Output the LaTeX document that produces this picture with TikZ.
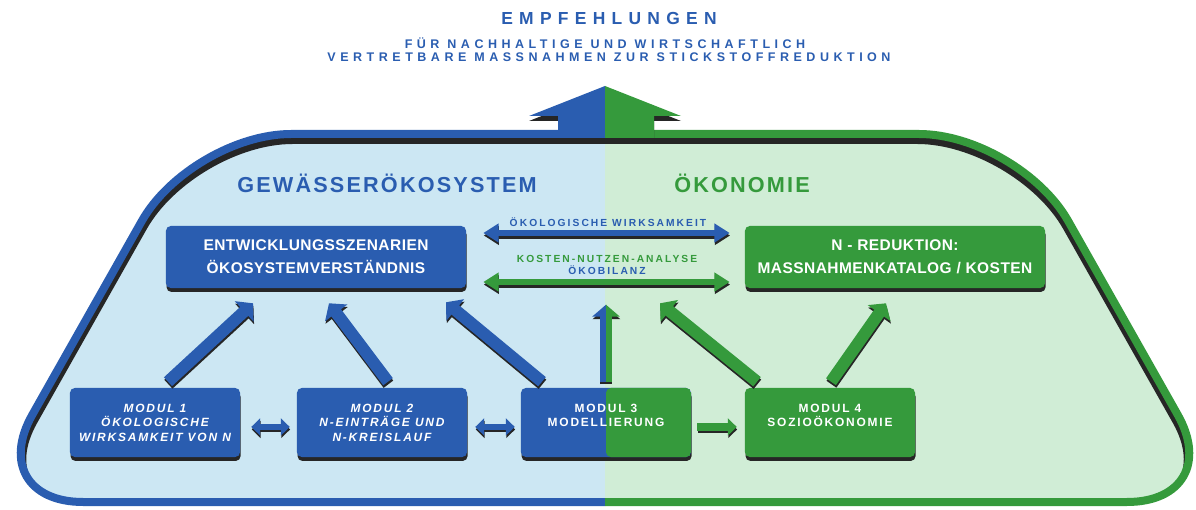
\documentclass[tikz,border=0pt]{standalone}
\usepackage{fontspec}
\setmainfont{Liberation Sans}
\newfontfamily\ttlfont[LetterSpace=36]{Liberation Sans}
\newfontfamily\hdfont[LetterSpace=10]{Liberation Sans}
\newfontfamily\bxfont[LetterSpace=3]{Liberation Sans}
\newfontfamily\mdfont[LetterSpace=15]{Liberation Sans}
\newfontfamily\lbfont[LetterSpace=20]{Liberation Sans}
\usetikzlibrary{arrows.meta,calc,shadows}
\definecolor{cblue}{RGB}{42,93,176}
\definecolor{cgreen}{RGB}{53,154,60}
\definecolor{lblue}{RGB}{204,231,243}
\definecolor{lgreen}{RGB}{208,237,214}
\newcommand\sdraw[2]{\draw[#1,color=black!85,transform canvas={xshift=0.3pt,yshift=-1.8pt}] #2; \draw[#1] #2;}
\def\outlinepath{(605,134) [rounded corners=2.5cm] -- (1019,134) -- (1123,318) -- (1227,502) -- (-17,502) -- (87,318) -- (191,134) -- cycle}
\def\toparrowpath{(605,86) -- (681,116) -- (654,116) -- (654,138) -- (558,138) -- (558,116) -- (529,116) -- cycle}
\begin{document}
\begin{tikzpicture}[x=0.025cm,y=-0.025cm,
  ubox/.style={rounded corners=0.12cm, fill=cblue, text=white, align=center, inner sep=0pt,
    drop shadow={shadow xshift=0.4pt,shadow yshift=-2.8pt,opacity=1,fill=black!85}},
  bigbox/.style={ubox, minimum width=7.5cm, minimum height=1.55cm, font=\bxfont\bfseries\fontsize{11}{16.4}\selectfont},
  modbox/.style={ubox, minimum width=4.25cm, minimum height=1.725cm, font=\mdfont\bfseries\fontsize{8.5}{10.3}\selectfont},
  modit/.style={modbox, font=\mdfont\bfseries\itshape\fontsize{8.5}{10.3}\selectfont},
  bigarr/.style={line width=0.17cm, {Triangle[width=0.45cm,length=0.38cm]}-{Triangle[width=0.45cm,length=0.38cm]}, shorten <=0.425cm, shorten >=0.375cm},
  smallarr/.style={line width=0.15cm, {Triangle[width=0.42cm,length=0.22cm]}-{Triangle[width=0.42cm,length=0.22cm]}},
  fwdarr/.style={line width=0.2cm, -{Triangle[width=0.42cm,length=0.22cm]}},
  uparr/.style={line width=0.3cm, -{Triangle[width=0.68cm,length=0.3cm]}},
  ttl/.style={anchor=base, text=cblue, font=\ttlfont\bfseries\fontsize{12.4}{14}\selectfont},
  sub/.style={anchor=base, text=cblue, font=\ttlfont\bfseries\fontsize{8.9}{9.3}\selectfont},
  hd/.style={anchor=base, text=cblue, font=\hdfont\bfseries\fontsize{15.4}{18}\selectfont},
  lbl/.style={anchor=base, text=cblue, font=\lbfont\bfseries\fontsize{7.3}{8.5}\selectfont}
]
\useasboundingbox (0,0) rectangle (1196,510);
% background outline
\begin{scope}
  \clip (-20,0) rectangle (605,520);
  \fill[lblue] \outlinepath;
  \begin{scope}
    \clip \outlinepath;
    \draw[black!85, line width=0.2cm, shift={(1.5,6)}] \outlinepath;
  \end{scope}
  \draw[cblue, line width=0.2cm] \outlinepath;
\end{scope}
\begin{scope}
  \clip (605,0) rectangle (1240,520);
  \fill[lgreen] \outlinepath;
  \begin{scope}
    \clip \outlinepath;
    \draw[black!85, line width=0.2cm, shift={(-1.5,6)}] \outlinepath;
  \end{scope}
  \draw[cgreen, line width=0.2cm] \outlinepath;
\end{scope}
% top arrow
\fill[black!85, shift={(0,5)}] \toparrowpath;
\begin{scope}
  \clip (0,0) rectangle (605,510);
  \fill[cblue] \toparrowpath;
\end{scope}
\begin{scope}
  \clip (605,0) rectangle (1196,510);
  \fill[cgreen] \toparrowpath;
\end{scope}
% titles
\node[ttl] (t0) at (609,25) {EMPFEHLUNGEN};
\node[sub] (t1) at (605,49) {FÜR NACHHALTIGE UND WIRTSCHAFTLICH};
\node[sub] (t2) at (609,61.5) {VERTRETBARE MASSNAHMEN ZUR STICKSTOFFREDUKTION};
\node[hd] (h1) at (387,192.5) {GEWÄSSERÖKOSYSTEM};
\node[hd, text=cgreen] (h2) at (742,192.5) {ÖKONOMIE};
\node[lbl] (l1) at (608,227) {ÖKOLOGISCHE WIRKSAMKEIT};
\node[lbl, text=cgreen] (l2) at (607,262.5) {KOSTEN-NUTZEN-ANALYSE};
\node[lbl] (l3) at (607,274.5) {ÖKOBILANZ};
% boxes
\node[bigbox] (ent) at (316,257) {ENTWICKLUNGSSZENARIEN\\ÖKOSYSTEMVERSTÄNDNIS};
\node[bigbox, fill=cgreen] (nred) at (895,257) {N - REDUKTION:\\MASSNAHMENKATALOG / KOSTEN};
\node[modit] (m1) at (155,422.5) {MODUL 1\\ÖKOLOGISCHE\\WIRKSAMKEIT VON N};
\node[modit] (m2) at (382,422.5) {MODUL 2\\N-EINTRÄGE UND\\N-KREISLAUF};
\node[modbox, path picture={\fill[cgreen] (path picture bounding box.north) rectangle (path picture bounding box.south east);}] (m3) at (606,422.5) {MODUL 3\\MODELLIERUNG\\\phantom{X}};
\node[modbox, fill=cgreen] (m4) at (830,422.5) {MODUL 4\\SOZIOÖKONOMIE\\\phantom{X}};
% connector end points
\coordinate (s1) at ($(m1.north)+(13,-6)$);
\coordinate (e1) at ($(ent.south)+(-63,15)$);
\coordinate (s2) at ($(m2.north)+(6,-6)$);
\coordinate (e2) at ($(ent.south)+(13,15)$);
\coordinate (s3) at ($(m3.north)+(-64,-6)$);
\coordinate (e3) at ($(ent.south)+(130,14)$);
\coordinate (s4) at ($(m3.north)+(0,-6)$);
\coordinate (e4) at ($(m3.north)+(0,-83)$);
\coordinate (s5) at ($(m4.north)+(-73,-6)$);
\coordinate (e5) at ($(nred.south)+(-235,15)$);
\coordinate (s6) at ($(m4.north)+(1,-6)$);
\coordinate (e6) at ($(nred.south)+(-9,15)$);
% horizontal arrows
\sdraw{bigarr,cblue}{([yshift=0.6cm]ent.east) -- ([yshift=0.6cm]nred.west)}
\sdraw{bigarr,cgreen}{([yshift=-0.625cm]ent.east) -- ([yshift=-0.625cm]nred.west)}
\sdraw{smallarr,cblue,shorten <=0.275cm,shorten >=0.175cm}{([yshift=-0.11cm]m1.east) -- ([yshift=-0.11cm]m2.west)}
\sdraw{smallarr,cblue,shorten <=0.2cm,shorten >=0.15cm}{([yshift=-0.11cm]m2.east) -- ([yshift=-0.11cm]m3.west)}
\sdraw{fwdarr,cgreen,shorten <=0.15cm,shorten >=0.2cm}{([yshift=-0.11cm]m3.east) -- ([yshift=-0.11cm]m4.west)}
% up arrows
\sdraw{uparr,cblue}{(s1) -- (e1)}
\sdraw{uparr,cblue}{(s2) -- (e2)}
\sdraw{uparr,cblue}{(s3) -- (e3)}
\sdraw{uparr,cgreen}{(s5) -- (e5)}
\sdraw{uparr,cgreen}{(s6) -- (e6)}
\draw[uparr,color=black!85,transform canvas={xshift=0.3pt,yshift=-1.8pt}] (s4) -- (e4);
\begin{scope}
  \clip (0,0) rectangle (606,510);
  \draw[uparr,cblue] (s4) -- (e4);
\end{scope}
\begin{scope}
  \clip (606,0) rectangle (1196,510);
  \draw[uparr,cgreen] (s4) -- (e4);
\end{scope}
\end{tikzpicture}
\end{document}
